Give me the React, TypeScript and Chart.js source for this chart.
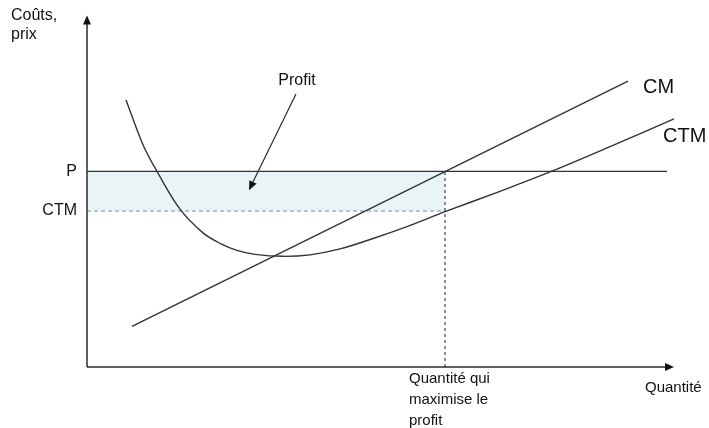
import React, { useEffect, useRef } from 'react';
import { Chart, registerables } from 'chart.js';

Chart.register(...registerables);

// ---- data (economic units: quantity 0..100, cost/price 0..100) ----
const ctmCurveX = [6.5, 9.33, 11.67, 15.5, 19.33, 22.17, 25.0, 28.0, 32.67, 37.17, 42.17, 47.67, 53.33, 59.67, 68.83, 77.17, 87.17, 97.83];
const ctmCurveY = [76.86, 64.0, 56.29, 45.43, 38.6, 35.6, 33.57, 32.43, 31.86, 32.29, 34.0, 37.0, 40.43, 44.7, 50.57, 56.14, 63.43, 71.43];
const cmX = [7.5, 90.17];
const cmY = [11.7, 82.3];
const priceLevel = 56.3;
const ctmLevel = 44.9;
const qOptimal = 59.67;
const priceLineEnd = 96.67;
const yTickValues = [ctmLevel, priceLevel];
const yTickLabels = ['CTM', 'P'];
const xTickLabel = ['Quantité qui', 'maximise le', 'profit'];
const profitArrowFrom = [34.83, 78.6];
const profitArrowTo = [27.0, 50.9];
const profitTextPos = [35.0, 82.3];
const cmLabelPos = [92.67, 80.6];
const ctmLabelPos = [96.0, 66.3];

const FONT = '"Liberation Sans", Arial, sans-serif';

function arrowHead(ctx: CanvasRenderingContext2D, tx: number, ty: number, angle: number, len: number, half: number) {
  ctx.save();
  ctx.translate(tx, ty);
  ctx.rotate(angle);
  ctx.beginPath();
  ctx.moveTo(0, 0);
  ctx.lineTo(-len, -half);
  ctx.lineTo(-len, half);
  ctx.closePath();
  ctx.fill();
  ctx.restore();
}

const overlayPlugin = {
  id: 'overlay',
  afterDraw(chart: any) {
    const { ctx, chartArea: a, scales } = chart;
    const x = scales.x;
    const y = scales.y;
    ctx.save();
    // axes with arrows
    ctx.strokeStyle = '#2b2b2b';
    ctx.fillStyle = '#111';
    ctx.lineWidth = 1.5;
    ctx.beginPath();
    ctx.moveTo(a.left, a.bottom);
    ctx.lineTo(a.left, a.top - 1);
    ctx.moveTo(a.left, a.bottom);
    ctx.lineTo(a.right - 16, a.bottom);
    ctx.stroke();
    arrowHead(ctx, a.left, a.top - 4, -Math.PI / 2, 9, 4);
    arrowHead(ctx, a.right - 13, a.bottom, 0, 9, 4);

    // profit arrow
    const fx = x.getPixelForValue(profitArrowFrom[0]);
    const fy = y.getPixelForValue(profitArrowFrom[1]);
    const tx = x.getPixelForValue(profitArrowTo[0]);
    const ty = y.getPixelForValue(profitArrowTo[1]);
    const ang = Math.atan2(ty - fy, tx - fx);
    ctx.lineWidth = 1.2;
    ctx.beginPath();
    ctx.moveTo(fx, fy);
    ctx.lineTo(tx - 6 * Math.cos(ang), ty - 6 * Math.sin(ang));
    ctx.stroke();
    arrowHead(ctx, tx, ty, ang, 9, 4);

    // texts
    ctx.fillStyle = '#111';
    ctx.textBaseline = 'middle';
    ctx.font = `16px ${FONT}`;
    ctx.textAlign = 'center';
    ctx.fillText('Profit', x.getPixelForValue(profitTextPos[0]), y.getPixelForValue(profitTextPos[1]));
    ctx.textAlign = 'left';
    ctx.fillText('Coûts,', 11, 16);
    ctx.fillText('prix', 11, 35);
    ctx.font = `15px ${FONT}`;
    ctx.fillText('Quantité', 645, 388);
    ctx.font = `20px ${FONT}`;
    ctx.fillText('CM', x.getPixelForValue(cmLabelPos[0]), y.getPixelForValue(cmLabelPos[1]));
    ctx.fillText('CTM', x.getPixelForValue(ctmLabelPos[0]), y.getPixelForValue(ctmLabelPos[1]));
    ctx.restore();
  },
};

export default function App() {
  const ref = useRef<HTMLCanvasElement | null>(null);
  useEffect(() => {
    if (!ref.current) return;
    const line = '#333';
    const chart = new Chart(ref.current, {
      type: 'line',
      data: {
        datasets: [
          {
            label: 'CTM',
            data: ctmCurveX.map((v, i) => ({ x: v, y: ctmCurveY[i] })),
            borderColor: line,
            borderWidth: 1.4,
            pointRadius: 0,
            tension: 0.35,
            fill: false,
          },
          {
            label: 'CM',
            data: cmX.map((v, i) => ({ x: v, y: cmY[i] })),
            borderColor: line,
            borderWidth: 1.4,
            pointRadius: 0,
            fill: false,
          },
          {
            label: 'P',
            data: [{ x: 0, y: priceLevel }, { x: priceLineEnd, y: priceLevel }],
            borderColor: line,
            borderWidth: 1.3,
            pointRadius: 0,
            fill: false,
          },
          {
            label: 'Q*',
            data: [{ x: qOptimal, y: 0 }, { x: qOptimal, y: priceLevel }],
            borderColor: '#222',
            borderWidth: 1,
            borderDash: [3, 3],
            pointRadius: 0,
            fill: false,
          },
          {
            label: 'CTM level',
            data: [{ x: 0, y: ctmLevel }, { x: qOptimal, y: ctmLevel }],
            borderColor: '#8a8a8a',
            borderWidth: 1.2,
            borderDash: [4, 3],
            pointRadius: 0,
            fill: false,
          },
          {
            label: 'Profit',
            data: [{ x: 0, y: priceLevel }, { x: qOptimal, y: priceLevel }],
            borderWidth: 0,
            borderColor: 'rgba(0,0,0,0)',
            backgroundColor: '#e8f4f6',
            pointRadius: 0,
            fill: 4,
          },
        ],
      },
      options: {
        animation: false,
        responsive: false,
        events: [],
        layout: { padding: { left: 0, right: 22, top: 17, bottom: 0 } },
        plugins: { legend: { display: false }, tooltip: { enabled: false } },
        scales: {
          x: {
            type: 'linear',
            min: 0,
            max: 100,
            grid: { display: false, drawTicks: false },
            border: { display: false },
            afterFit: (s: any) => { s.height = 61; },
            afterBuildTicks: (s: any) => { s.ticks = [{ value: qOptimal }]; },
            ticks: {
              autoSkip: false,
              maxRotation: 0,
              align: 'start',
              labelOffset: -36,
              padding: 2,
              color: '#111',
              font: { family: FONT, size: 15, lineHeight: 1.38 },
              callback: () => xTickLabel,
            },
          },
          y: {
            type: 'linear',
            min: 0,
            max: 100,
            grid: { display: false, drawTicks: false },
            border: { display: false },
            afterFit: (s: any) => { s.width = 87; },
            afterBuildTicks: (s: any) => { s.ticks = yTickValues.map((v) => ({ value: v })); },
            ticks: {
              autoSkip: false,
              padding: 10,
              color: '#111',
              font: { family: FONT, size: 16 },
              callback: (_v: any, i: number) => yTickLabels[i],
            },
          },
        },
      },
      plugins: [overlayPlugin],
    } as any);
    return () => chart.destroy();
  }, []);
  return (
    <div style={{ position: 'absolute', left: 0, top: 0, width: 709, height: 428, background: '#fff' }}>
      <canvas ref={ref} width={709} height={428} />
    </div>
  );
}
